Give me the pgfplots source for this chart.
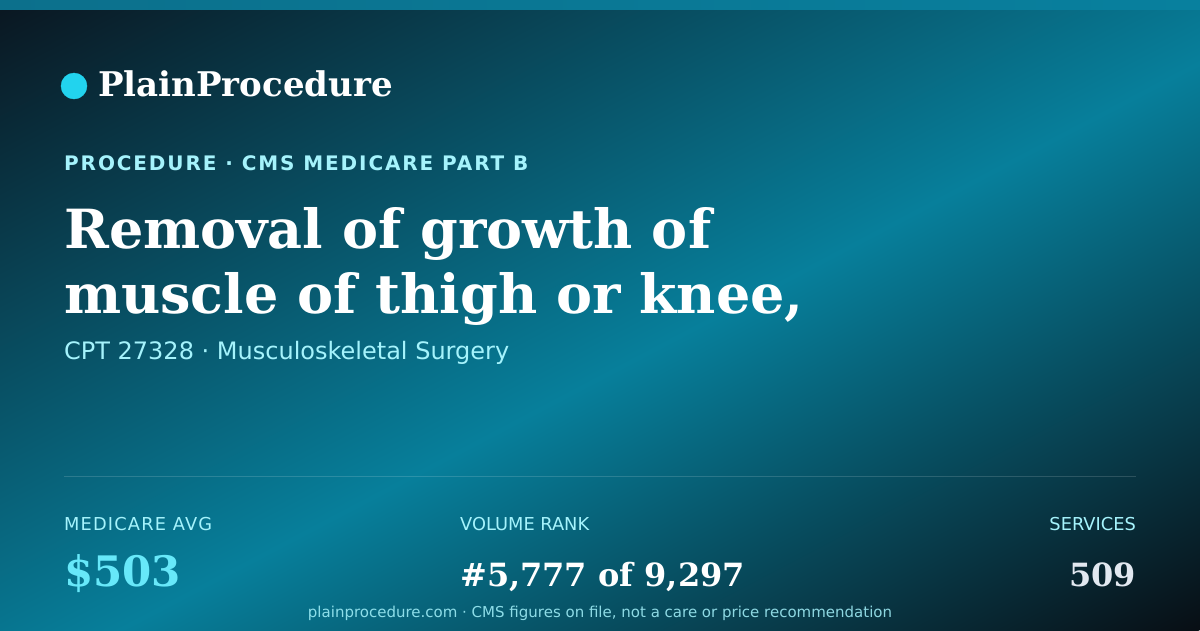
\documentclass[border=0pt]{standalone}
\usepackage{pgfplots}
\pgfplotsset{compat=1.18}
\usepackage{fontspec}
\setmainfont{DejaVu Serif}
\newfontfamily\sans{DejaVu Sans}
\newfontfamily\sanswide[LetterSpace=9.4]{DejaVu Sans}
\newfontfamily\sanslabel[LetterSpace=6.5]{DejaVu Sans}

\definecolor{bgA}{RGB}{10,22,32}
\definecolor{bgB}{RGB}{7,127,155}
\definecolor{bgC}{RGB}{8,14,20}
\definecolor{stripL}{RGB}{12,112,140}
\definecolor{stripR}{RGB}{8,128,158}
\definecolor{dot}{HTML}{22D3EE}
\definecolor{kicker}{HTML}{A5F3FC}
\definecolor{price}{HTML}{67E8F9}
\definecolor{muted}{HTML}{E2E8F0}

% colour runs from the top-left corner (25bp) to the bottom-right corner (75bp)
\pgfdeclarehorizontalshading{bgshade}{100bp}{%
  color(0bp)=(bgA); color(25bp)=(bgA); color(52.5bp)=(bgB);
  color(75bp)=(bgC); color(100bp)=(bgC)}
\pgfdeclarehorizontalshading{stripshade}{100bp}{%
  color(0bp)=(stripL); color(25bp)=(stripL); color(75bp)=(stripR); color(100bp)=(stripR)}

\begin{document}
\begin{tikzpicture}
  \useasboundingbox (0,0) rectangle (1200pt,630pt);
  \begin{scope}
    \clip (-3pt,-3pt) rectangle (1203pt,633pt);
    % isolines run parallel to the bottom-left/top-right diagonal
    \begin{scope}[transform canvas={cm={24,0,12,6.3,(0,630pt)}}]
      \shade[shading=bgshade] (0,-101pt) rectangle (100pt,1pt);
    \end{scope}
  \end{scope}
  \shade[shading=stripshade] (-3pt,620pt) rectangle (1203pt,633pt);

  \begin{axis}[
      width=1200pt, height=630pt, scale only axis,
      xmin=0, xmax=1200, ymin=0, ymax=630,
      y dir=reverse,
      hide axis, clip=false,
    ]

    % brand dot
    \addplot[only marks, mark=*, mark size=13, dot] coordinates {(74,86)};
    % divider
    \addplot[white, opacity=0.15, line width=1pt] coordinates {(64,476) (1136,476)};

    \node[anchor=base west, inner sep=0, white]
      at (axis cs:98,96) {\fontsize{34}{40}\selectfont\bfseries PlainProcedure};

    \node[anchor=base west, inner sep=0, kicker]
      at (axis cs:64,170) {\fontsize{20}{24}\selectfont\sanswide\bfseries PROCEDURE · CMS MEDICARE PART B};

    \node[anchor=base west, inner sep=0, white]
      at (axis cs:64,248) {\fontsize{54}{64}\selectfont\bfseries Removal of growth of};
    \node[anchor=base west, inner sep=0, white]
      at (axis cs:64,313) {\fontsize{54}{64}\selectfont\bfseries muscle of thigh or knee,};

    \node[anchor=base west, inner sep=0, kicker]
      at (axis cs:64,359) {\fontsize{24}{28}\selectfont\sans CPT 27328 · Musculoskeletal Surgery};

    % stat labels
    \node[anchor=base west, inner sep=0, kicker]
      at (axis cs:64,530) {\fontsize{17.8}{22}\selectfont\sanslabel MEDICARE AVG};
    \node[anchor=base west, inner sep=0, kicker]
      at (axis cs:460,530) {\fontsize{17.8}{22}\selectfont\sans VOLUME RANK};
    \node[anchor=base east, inner sep=0, kicker]
      at (axis cs:1136,530) {\fontsize{17.8}{22}\selectfont\sans SERVICES};

    % stat values
    \node[anchor=base west, inner sep=0, price]
      at (axis cs:64,586) {\fontsize{42}{48}\selectfont\bfseries \$503};
    \node[anchor=base west, inner sep=0, white]
      at (axis cs:460,586) {\fontsize{32}{40}\selectfont\bfseries \#5,777 of 9,297};
    \node[anchor=base east, inner sep=0, muted]
      at (axis cs:1136,586) {\fontsize{32}{40}\selectfont\bfseries 509};

    \node[anchor=base, inner sep=0, kicker, opacity=0.85]
      at (axis cs:600,617) {\fontsize{15}{18}\selectfont\sans plainprocedure.com · CMS figures on file, not a care or price recommendation};
  \end{axis}
\end{tikzpicture}
\end{document}
